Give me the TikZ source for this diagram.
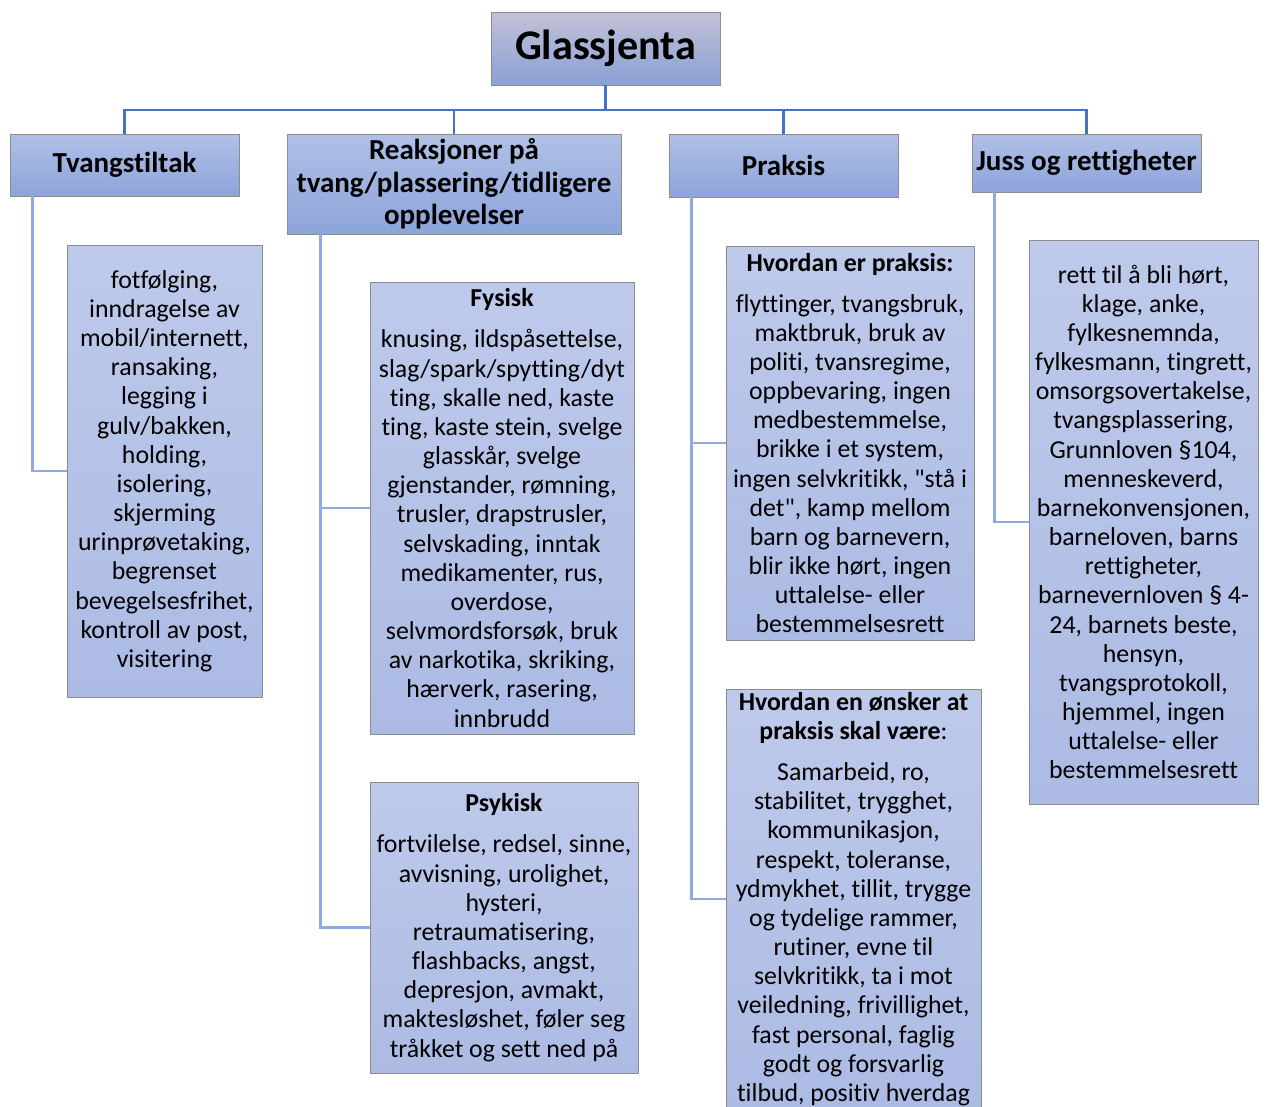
\documentclass[tikz,border=0pt]{standalone}
\usepackage{fontspec}
\setmainfont{Carlito}[Ligatures={NoCommon,TeXOff}]
\usetikzlibrary{positioning}
\definecolor{treeblue}{HTML}{4472C4}
\definecolor{linkblue}{HTML}{8FAADC}
\definecolor{boxedge}{HTML}{8C8C8C}
\begin{document}
\begin{tikzpicture}[x=0.02cm, y=-0.02cm,
		title/.style={rectangle, draw=boxedge, top color=blue!20!gray!40!white, bottom color={rgb,255:red,138;green,160;blue,214}, inner sep=0pt, minimum width=4.58cm, minimum height=1.46cm, font=\fontsize{24}{28}\selectfont\bfseries},
		head/.style={rectangle, draw=boxedge, top color={rgb,255:red,176;green,192;blue,230}, bottom color={rgb,255:red,141;green,164;blue,218}, inner sep=0pt, align=center, minimum width=4.58cm, font=\fontsize{16.5}{18.4}\selectfont\bfseries},
		leaf/.style={rectangle, draw=boxedge, top color={rgb,255:red,190;green,202;blue,235}, bottom color={rgb,255:red,172;green,187;blue,228}, inner sep=0pt, align=center, font=\fontsize{14.7}{16.6}\selectfont},
		tree/.style={treeblue, line width=1.4pt},
		link/.style={linkblue, line width=1.4pt}
		]
		\useasboundingbox (0,0) rectangle (1266,1106);
		
		% top level
		\node[title] (glass) at (605.5,48.5) {Glassjenta};
		\node[head, minimum height=1.24cm] (tvang) at (124.5,165) {Tvangstiltak};
		\node[head, minimum width=6.68cm, minimum height=2cm] (reak) at (454,184) {Reaksjoner på\\tvang/plassering/tidligere\\opplevelser};
		\node[head, minimum height=1.26cm] (praksis) at (783.5,165.5) {Praksis};
		\node[head, minimum height=1.16cm] (juss) at (1086.5,163) {Juss og rettigheter};
		
		% leaves
		\node[leaf, minimum width=3.9cm, minimum height=9.04cm] (tvangtiltak) at (164.5,471) {fotfølging,\\inndragelse av\\mobil/internett,\\ransaking,\\legging i\\gulv/bakken,\\holding,\\isolering,\\skjerming\\urinprøvetaking,\\begrenset\\bevegelsesfrihet,\\kontroll av post,\\visitering};
		\node[leaf, minimum width=5.28cm, minimum height=9.04cm] (fysisk) at (502,508) {\textbf{Fysisk}\\[6.8pt]knusing, ildspåsettelse,\\slag/spark/spytting/dyt\\ting, skalle ned, kaste\\ting, kaste stein, svelge\\glasskår, svelge\\gjenstander, rømning,\\trusler, drapstrusler,\\selvskading, inntak\\medikamenter, rus,\\overdose,\\selvmordsforsøk, bruk\\av narkotika, skriking,\\hærverk, rasering,\\innbrudd};
		\node[leaf, minimum width=5.36cm, minimum height=5.82cm] (psykisk) at (504,927.5) {\textbf{Psykisk}\\[6.8pt]fortvilelse, redsel, sinne,\\avvisning, urolighet,\\hysteri,\\retraumatisering,\\flashbacks, angst,\\depresjon, avmakt,\\maktesløshet, føler seg\\tråkket og sett ned på};
		\node[leaf, minimum width=4.96cm, minimum height=7.88cm] (erpraksis) at (850,443) {\textbf{Hvordan er praksis:}\\[6.8pt]flyttinger, tvangsbruk,\\maktbruk, bruk av\\politi, tvansregime,\\oppbevaring, ingen\\medbestemmelse,\\brikke i et system,\\ingen selvkritikk, "stå i\\det", kamp mellom\\barn og barnevern,\\blir ikke hørt, ingen\\uttalelse- eller\\bestemmelsesrett};
		\node[leaf, minimum width=5.1cm, minimum height=8.4cm] (onsket) at (853.5,899) {\textbf{Hvordan en ønsker at}\\\textbf{praksis skal være}:\\[6.8pt]Samarbeid, ro,\\stabilitet, trygghet,\\kommunikasjon,\\respekt, toleranse,\\ydmykhet, tillit, trygge\\og tydelige rammer,\\rutiner, evne til\\selvkritikk, ta i mot\\veiledning, frivillighet,\\fast personal, faglig\\godt og forsvarlig\\tilbud, positiv hverdag};
		\node[leaf, minimum width=4.58cm, minimum height=11.28cm] (rettigheter) at (1143.5,522) {rett til å bli hørt,\\klage, anke,\\fylkesnemnda,\\fylkesmann, tingrett,\\omsorgsovertakelse,\\tvangsplassering,\\Grunnloven §104,\\menneskeverd,\\barnekonvensjonen,\\barneloven, barns\\rettigheter,\\barnevernloven § 4-\\24, barnets beste,\\hensyn,\\tvangsprotokoll,\\hjemmel, ingen\\uttalelse- eller\\bestemmelsesrett};
		
		% tree lines
		\coordinate (bar) at (605.5,110);
		\draw[tree] (glass.south) -- (bar);
		\draw[tree] (bar) -| (tvang.north);
		\draw[tree] (bar) -| (reak.north);
		\draw[tree] (bar) -| (praksis.north);
		\draw[tree] (bar) -| (juss.north);
		
		\draw[link] ([xshift=0.46cm]tvang.south west) |- (tvangtiltak.west);
		\draw[link] ([xshift=0.68cm]reak.south west) |- (psykisk.west);
		\draw[link] ([xshift=0.68cm]reak.south west) |- (fysisk.west);
		\draw[link] ([xshift=0.46cm]praksis.south west) |- (onsket.west);
		\draw[link] ([xshift=0.46cm]praksis.south west) |- (erpraksis.west);
		\draw[link] ([xshift=0.46cm]juss.south west) |- (rettigheter.west);
		
	\end{tikzpicture}
\end{document}
